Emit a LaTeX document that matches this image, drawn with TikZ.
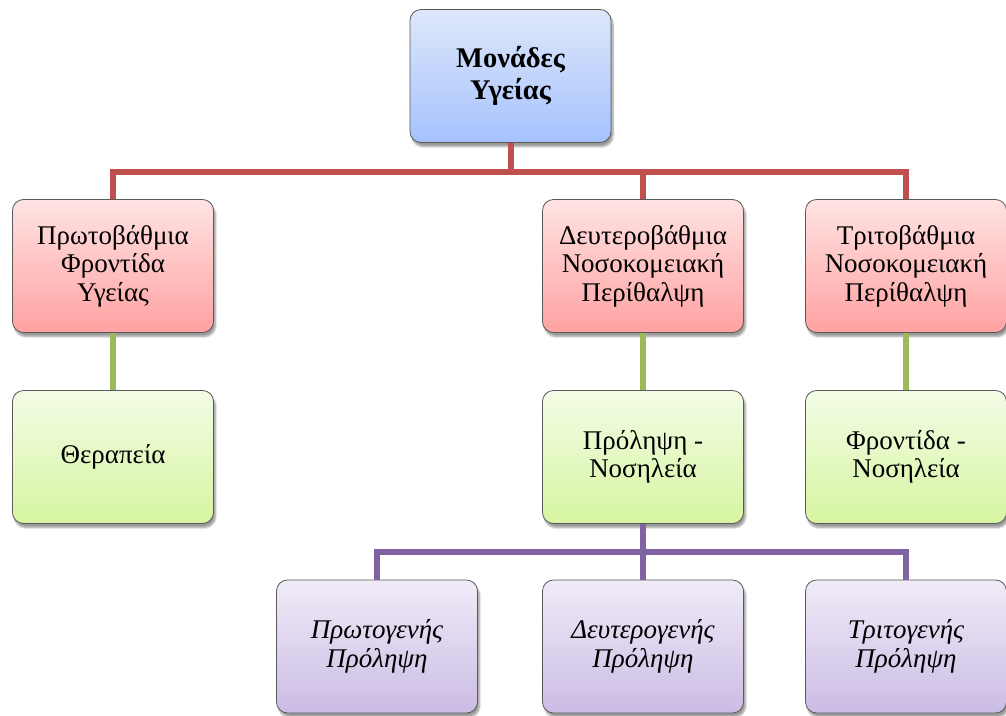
\documentclass[tikz,border=0pt]{standalone}
\usepackage{fontspec}
\setmainfont{Liberation Serif}
\usetikzlibrary{shadows.blur}

\definecolor{redline}{HTML}{C0504D}
\definecolor{greenline}{HTML}{9BBB59}
\definecolor{purpleline}{HTML}{8064A2}
\definecolor{bluetop}{HTML}{DDE7F9}
\definecolor{bluebot}{HTML}{A6C2FE}
\definecolor{redtop}{HTML}{FFE3E3}
\definecolor{redbot}{HTML}{FFA1A1}
\definecolor{greentop}{HTML}{F3FCE6}
\definecolor{greenbot}{HTML}{D6F5A0}
\definecolor{purpletop}{HTML}{F0EBF8}
\definecolor{purplebot}{HTML}{CBBCE4}

\tikzset{
  unit/.style={draw=gray!70!black, line width=0.8pt, rounded corners=11pt,
    minimum width=201pt, minimum height=133pt, align=center,
    font=\fontsize{27}{28.5}\selectfont,
    blur shadow={shadow xshift=2pt, shadow yshift=-4pt, shadow blur steps=6, shadow opacity=40}},
  bluebox/.style={unit, top color=bluetop, bottom color=bluebot,
    font=\fontsize{28.5}{32}\selectfont\bfseries},
  redbox/.style={unit, top color=redtop, bottom color=redbot},
  greenbox/.style={unit, top color=greentop, bottom color=greenbot},
  purplebox/.style={unit, top color=purpletop, bottom color=purplebot,
    font=\fontsize{27}{28.5}\selectfont\itshape},
  link/.style={line width=6pt}
}

\begin{document}
\begin{tikzpicture}[x=1pt, y=-1pt]
\useasboundingbox (0,0) rectangle (1006,715);

% top
\node[bluebox] (units) at (510.5,76) {Μονάδες\\Υγείας};

% level 2
\node[redbox] (primary) at (113,266) {Πρωτοβάθμια\\Φροντίδα\\Υγείας};
\node[redbox] (secondary) at (643,266) {Δευτεροβάθμια\\Νοσοκομειακή\\Περίθαλψη};
\node[redbox] (tertiary) at (906,266) {Τριτοβάθμια\\Νοσοκομειακή\\Περίθαλψη};

% level 3
\node[greenbox] (therapy) at (113,457) {Θεραπεία};
\node[greenbox] (prevention) at (643,457) {Πρόληψη -\\Νοσηλεία};
\node[greenbox] (care) at (906,457) {Φροντίδα -\\Νοσηλεία};

% level 4
\node[purplebox] (prim) at (377,646.5) {Πρωτογενής\\Πρόληψη};
\node[purplebox] (sec) at (643,646.5) {Δευτερογενής\\Πρόληψη};
\node[purplebox] (tert) at (906,646.5) {Τριτογενής\\Πρόληψη};

% connectors
\coordinate (redbus) at (510.5,172);
\coordinate (purplebus) at (643,552);

\draw[link, redline] (units.south) -- (redbus);
\draw[link, redline] (primary.north) |- (redbus);
\draw[link, redline] (secondary.north) |- (redbus);
\draw[link, redline] (tertiary.north) |- (redbus);

\draw[link, greenline] (primary) -- (therapy);
\draw[link, greenline] (secondary) -- (prevention);
\draw[link, greenline] (tertiary) -- (care);

\draw[link, purpleline] (prevention.south) -- (purplebus);
\draw[link, purpleline] (prim.north) |- (purplebus);
\draw[link, purpleline] (sec.north) -- (purplebus);
\draw[link, purpleline] (tert.north) |- (purplebus);
\end{tikzpicture}
\end{document}
